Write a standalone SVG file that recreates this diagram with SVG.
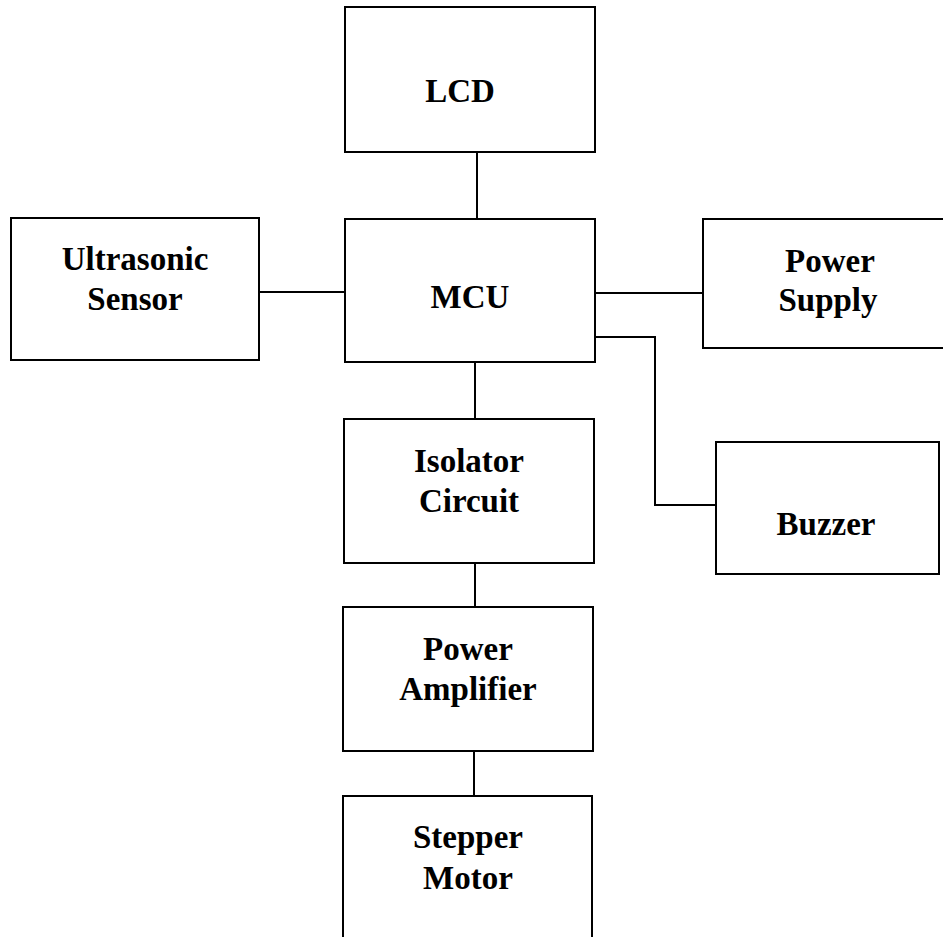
<svg xmlns="http://www.w3.org/2000/svg" width="943" height="937" viewBox="0 0 943 937">
<style>
.box{fill:#fff;stroke:#000;stroke-width:2}
.ln{fill:none;stroke:#000;stroke-width:2}
.t{font-family:"Liberation Serif","Times New Roman",serif;font-weight:bold;font-size:33px;text-anchor:middle;fill:#000}
</style>
<rect width="943" height="937" fill="#fff"/>
<g id="connectors">
<line class="ln" x1="477" y1="152" x2="477" y2="219"/>
<line class="ln" x1="259" y1="292" x2="345" y2="292"/>
<line class="ln" x1="595" y1="293" x2="703" y2="293"/>
<polyline class="ln" points="595,337 655,337 655,505 716,505"/>
<line class="ln" x1="475" y1="362" x2="475" y2="419"/>
<line class="ln" x1="475" y1="563" x2="475" y2="607"/>
<line class="ln" x1="474" y1="751" x2="474" y2="796"/>
</g>
<g id="lcd"><rect class="box" x="345" y="7" width="250" height="145"/><text class="t" x="460" y="102">LCD</text></g>
<g id="mcu"><rect class="box" x="345" y="219" width="250" height="143"/><text class="t" x="470" y="308">MCU</text></g>
<g id="ultrasonic"><rect class="box" x="11" y="218" width="248" height="142"/><text class="t" x="135" y="270">Ultrasonic</text><text class="t" x="135" y="310">Sensor</text></g>
<g id="power-supply"><rect class="box" x="703" y="219" width="250" height="129"/><text class="t" x="830" y="272">Power</text><text class="t" x="828" y="311">Supply</text></g>
<g id="buzzer"><rect class="box" x="716" y="442" width="223" height="132"/><text class="t" x="826" y="535">Buzzer</text></g>
<g id="isolator"><rect class="box" x="344" y="419" width="250" height="144"/><text class="t" x="469" y="472">Isolator</text><text class="t" x="469" y="512">Circuit</text></g>
<g id="amplifier"><rect class="box" x="343" y="607" width="250" height="144"/><text class="t" x="468" y="660">Power</text><text class="t" x="468" y="700">Amplifier</text></g>
<g id="stepper"><rect class="box" x="343" y="796" width="249" height="160"/><text class="t" x="468" y="848">Stepper</text><text class="t" x="468" y="889">Motor</text></g>
</svg>
